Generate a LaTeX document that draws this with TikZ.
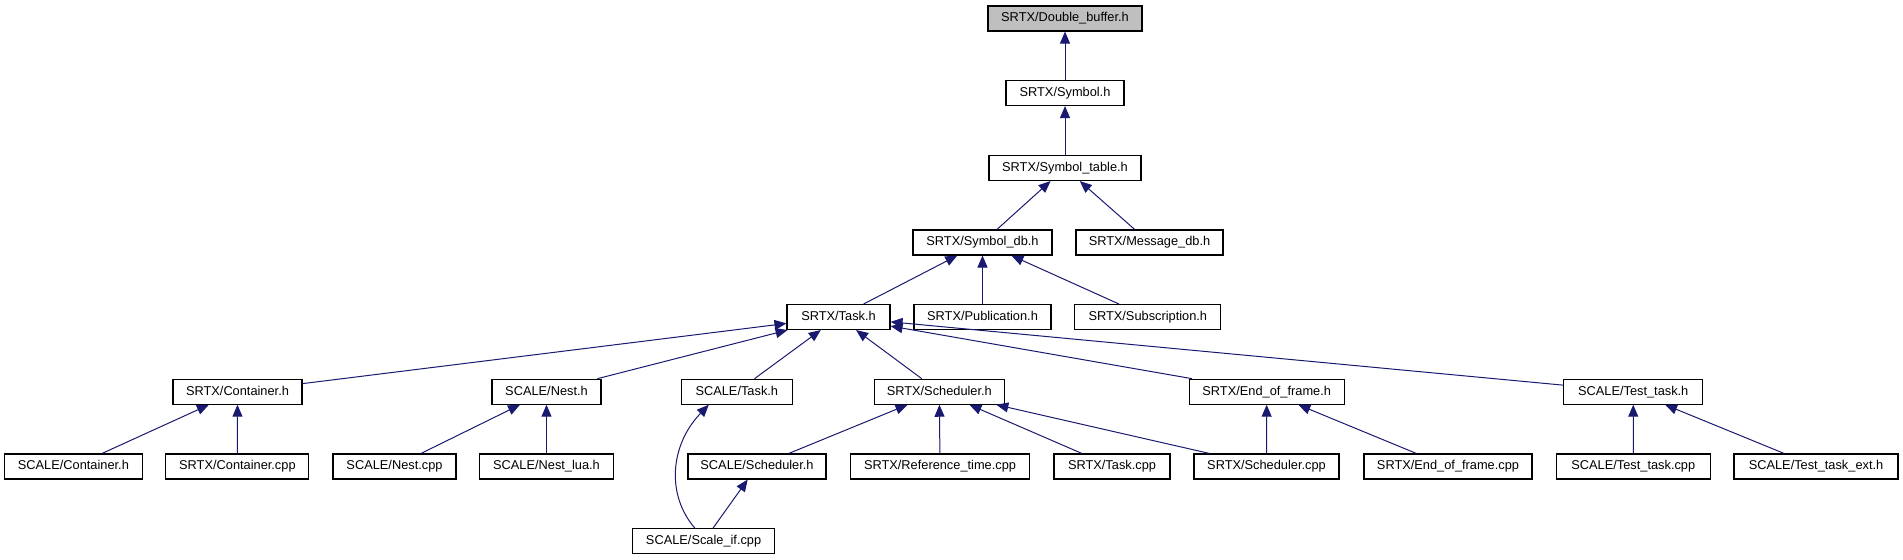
\documentclass[tikz,border=0pt]{standalone}
\usepackage{fontspec}
\setmainfont{Liberation Sans}
\usetikzlibrary{arrows.meta,calc}
\definecolor{edgeblue}{HTML}{191970}
\definecolor{rootgray}{HTML}{BFBFBF}
\tikzset{
  fbox/.style={draw=black, line width=0.8pt, fill=white, inner sep=0pt,
    minimum height=18.75pt, minimum width={#1*0.75pt},
    text height=7pt, text depth=2pt, font=\fontsize{9.6pt}{11pt}\selectfont},
  rootbox/.style={fbox=#1, fill=rootgray},
  edge/.style={draw=edgeblue, line width=0.75pt,
    -{Triangle[length=9pt,width=7.5pt,fill=edgeblue]}}
}
\begin{document}
\begin{tikzpicture}[x=0.75pt,y=-0.75pt]
\useasboundingbox (0,0) rectangle (1903,560);
% row 0-4
\node[rootbox=154] (dbuf) at (1065,18.5) {SRTX/Double\_buffer.h};
\node[fbox=118] (symbol) at (1065,93) {SRTX/Symbol.h};
\node[fbox=152] (symtab) at (1065,168) {SRTX/Symbol\_table.h};
\node[fbox=139] (symdb) at (982.5,242.5) {SRTX/Symbol\_db.h};
\node[fbox=147] (msgdb) at (1149.5,242.5) {SRTX/Message\_db.h};
\node[fbox=103] (task) at (838.5,317) {SRTX/Task.h};
\node[fbox=137] (pub) at (982.5,317) {SRTX/Publication.h};
\node[fbox=146] (sub) at (1147.8,317) {SRTX/Subscription.h};
% row 5
\node[fbox=129] (cont) at (237.5,391.7) {SRTX/Container.h};
\node[fbox=109] (nest) at (546.5,391.7) {SCALE/Nest.h};
\node[fbox=111] (stask) at (736.8,391.7) {SCALE/Task.h};
\node[fbox=130.5] (sched) at (939.3,391.7) {SRTX/Scheduler.h};
\node[fbox=155] (eof) at (1266.7,391.7) {SRTX/End\_of\_frame.h};
\node[fbox=139] (ttask) at (1633.2,391.7) {SCALE/Test\_task.h};
% row 6
\node[fbox=137.6] (scont) at (73.4,466.5) {SCALE/Container.h};
\node[fbox=143] (contcpp) at (237.4,466.5) {SRTX/Container.cpp};
\node[fbox=123] (nestcpp) at (394.5,466.5) {SCALE/Nest.cpp};
\node[fbox=133.5] (nestlua) at (546.5,466.5) {SCALE/Nest\_lua.h};
\node[fbox=138] (ssched) at (757,466.5) {SCALE/Scheduler.h};
\node[fbox=179] (reftime) at (940,466.5) {SRTX/Reference\_time.cpp};
\node[fbox=116] (taskcpp) at (1112,466.5) {SRTX/Task.cpp};
\node[fbox=145] (schedcpp) at (1266.5,466.5) {SRTX/Scheduler.cpp};
\node[fbox=168] (eofcpp) at (1448,466.5) {SRTX/End\_of\_frame.cpp};
\node[fbox=153.7] (ttcpp) at (1633.3,466.5) {SCALE/Test\_task.cpp};
\node[fbox=164] (ttext) at (1816,466.5) {SCALE/Test\_task\_ext.h};
% row 7
\node[fbox=142] (scaleif) at (703.6,541.3) {SCALE/Scale\_if.cpp};
% edges
\draw[edge] (symbol) -- (dbuf);
\draw[edge] (symtab) -- (symbol);
\draw[edge] (symdb) -- (symtab);
\draw[edge] (msgdb) -- (symtab);
\draw[edge] (task) -- (symdb);
\draw[edge] (pub) -- (symdb);
\draw[edge] (sub) -- (symdb);
\draw[edge] (cont) -- (task);
\draw[edge] (nest) -- (task);
\draw[edge] (stask) -- (task);
\draw[edge] (sched) -- (task);
\draw[edge] (eof) -- (task);
\draw[edge] (ttask) -- (task);
\draw[edge] (scont) -- (cont);
\draw[edge] (contcpp) -- (cont);
\draw[edge] (nestcpp) -- (nest);
\draw[edge] (nestlua) -- (nest);
\draw[edge] (ssched) -- (sched);
\draw[edge] (reftime) -- (sched);
\draw[edge] (taskcpp) -- (sched);
\draw[edge] (schedcpp) -- (sched);
\draw[edge] (schedcpp) -- (eof);
\draw[edge] (eofcpp) -- (eof);
\draw[edge] (ttcpp) -- (ttask);
\draw[edge] (ttext) -- (ttask);
\draw[edge] (scaleif) -- (ssched);
\draw[edge] ($(scaleif.north)+(-8.6,0)$) .. controls (666,495) and (670,445) .. ($(stask.south)+(-28,0)$);
\end{tikzpicture}
\end{document}
